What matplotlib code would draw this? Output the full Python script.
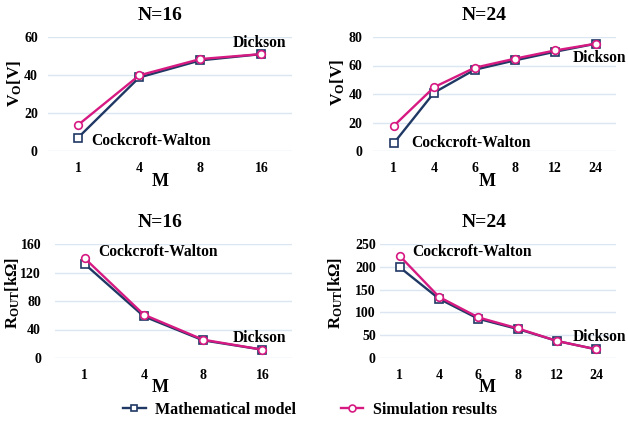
import matplotlib
matplotlib.use("Agg")
import matplotlib.pyplot as plt

plt.rcParams['font.family'] = ['Liberation Serif', 'DejaVu Serif']
plt.rcParams['font.weight'] = 'bold'
plt.rcParams['mathtext.fontset'] = 'custom'
plt.rcParams['mathtext.rm'] = 'Liberation Serif:bold'
plt.rcParams['mathtext.bf'] = 'Liberation Serif:bold'
plt.rcParams['mathtext.it'] = 'Liberation Serif:bold'

# data
m16 = ['1', '4', '8', '16']
m24 = ['1', '4', '6', '8', '12', '24']

vo16_model = [7, 38.7, 47.7, 51]
vo16_sim = [13.7, 39.8, 48.4, 51]
vo24_model = [5.4, 41, 57, 63.6, 69.7, 75.3]
vo24_sim = [17.6, 44.8, 58.4, 64.8, 70.6, 75.3]

rout16_model = [132, 58.4, 24.8, 11.7]
rout16_sim = [140, 60.8, 25.7, 11.7]
rout24_model = [199, 130, 86, 63.6, 37.3, 19]
rout24_sim = [224, 134, 89, 65, 37.3, 19]

navy = '#1f3864'
pink = '#d61a82'
grid = '#dbe6f1'

fig = plt.figure(figsize=(6.28, 4.22), dpi=100)
W, H = 628.0, 422.0


def make_ax(l, t, r, b):
    return fig.add_axes([l / W, 1 - b / H, (r - l) / W, (b - t) / H])


def panel(ax, cats, model, sim, ymax, step, ypad):
    x = list(range(len(cats)))
    ax.plot(x, model, color=navy, lw=1.7, marker='s', ms=5.5, mfc='white',
            mec=navy, mew=1.2, label='Mathematical model', zorder=3)
    ax.plot(x, sim, color=pink, lw=1.7, marker='o', ms=5.5, mfc='white',
            mec=pink, mew=1.2, label='Simulation results', zorder=4)
    ax.set_xlim(-0.5, len(cats) - 0.5)
    ax.set_ylim(0, ymax)
    ax.set_xticks(x)
    ax.set_xticklabels(cats)
    ax.set_yticks(range(0, ymax + 1, step))
    for s in ax.spines.values():
        s.set_visible(False)
    ax.grid(axis='y', color=grid, lw=1)
    ax.set_axisbelow(True)
    ax.tick_params(length=0, labelsize=10)
    ax.tick_params(axis='x', pad=8)
    ax.tick_params(axis='y', pad=ypad)


ax1 = make_ax(47.5, 37, 292, 151)
panel(ax1, m16, vo16_model, vo16_sim, 60, 20, 7)
ax2 = make_ax(373.5, 37, 616, 151)
panel(ax2, m24, vo24_model, vo24_sim, 80, 20, 8)
ax3 = make_ax(55, 244, 292, 358)
panel(ax3, m16, rout16_model, rout16_sim, 160, 40, 10)
ax4 = make_ax(380, 244, 616, 358)
panel(ax4, m24, rout24_model, rout24_sim, 250, 50, 3)

tfs = 14
lfs = 12
afs = 11.2

# titles, axis labels
for (cx, cy, txt) in [(160, 15, 'N=16'), (484, 15, 'N=24'),
                      (160, 223, 'N=16'), (484, 223, 'N=24')]:
    fig.text(cx / W, 1 - cy / H, txt, ha='center', va='center', fontsize=tfs, fontweight='bold')
for (cx, cy) in [(160, 181), (487, 181), (160, 387), (487, 388)]:
    fig.text(cx / W, 1 - cy / H, 'M', ha='center', va='center', fontsize=13, fontweight='bold')
for (cx, cy) in [(15, 83), (338, 82)]:
    fig.text(cx / W, 1 - cy / H, r'V$_\mathrm{O}$[V]', ha='center', va='center',
             rotation=90, fontsize=lfs + 0.5, fontweight='bold')
for (cx, cy) in [(13, 293), (336, 293)]:
    fig.text(cx / W, 1 - cy / H, r'R$_\mathrm{OUT}$[kΩ]', ha='center', va='center',
             rotation=90, fontsize=lfs, fontweight='bold')

# annotations
notes = [(91, 141, 'Cockcroft-Walton'), (233, 43, 'Dickson'),
         (411, 143, 'Cockcroft-Walton'), (573, 58, 'Dickson'),
         (98, 252, 'Cockcroft-Walton'), (233, 338, 'Dickson'),
         (412, 252, 'Cockcroft-Walton'), (573, 337, 'Dickson')]
for (lx, cy, txt) in notes:
    fig.text(lx / W, 1 - cy / H, txt, ha='left', va='center', fontsize=afs, fontweight='bold')

handles, labels = ax1.get_legend_handles_labels()
fig.legend(handles, labels, loc='center', bbox_to_anchor=(310 / W, 1 - 410 / H), ncol=2,
           frameon=False, handlelength=1.4, handletextpad=0.6, markerscale=0.9,
           columnspacing=2.8, prop={'weight': 'bold', 'size': 11.5})

fig.savefig('out.png', dpi=100, facecolor='white')
